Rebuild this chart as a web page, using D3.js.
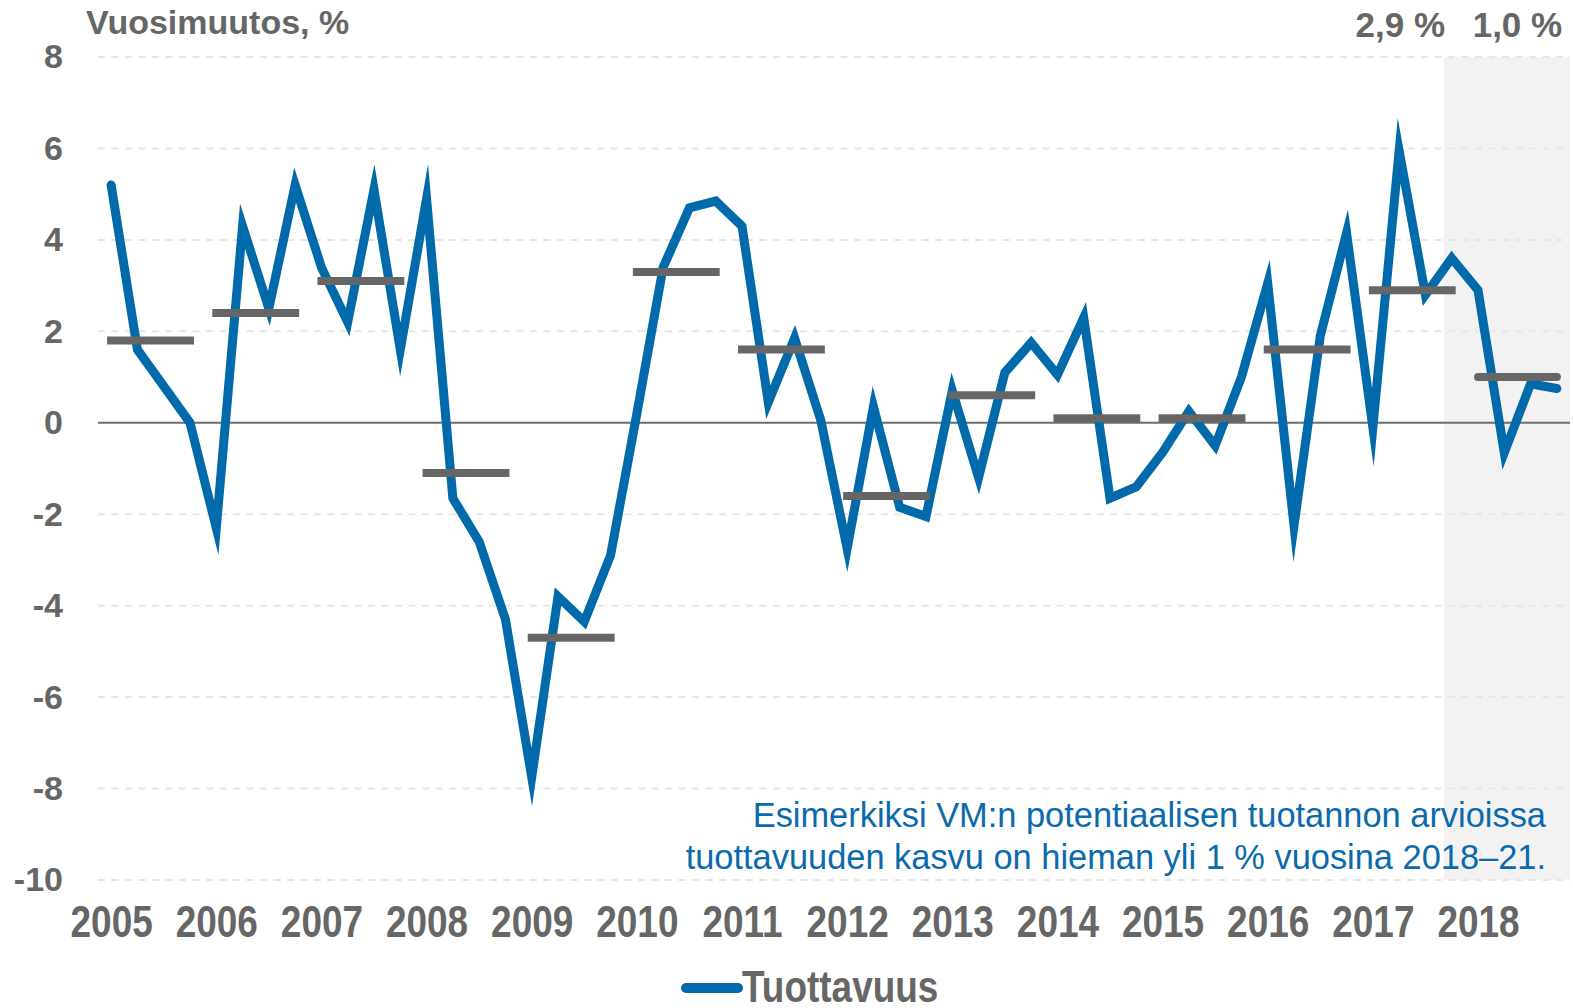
<!DOCTYPE html>
<html>
<head>
<meta charset="utf-8">
<script src="https://cdn.jsdelivr.net/npm/d3@7"></script>
<style>
  body { margin: 0; background: #fff; }
  svg { display: block; }
  .wide { font-family: "Liberation Sans", Arial, sans-serif; font-weight: bold; fill: #666; }
  .narrow { font-family: "Liberation Sans", Arial, sans-serif; }
</style>
</head>
<body>
<div id="chart"></div>
<script>
// Quarterly y/y change in productivity, 2005Q1 .. 2018Q4
const years = [2005, 2006, 2007, 2008, 2009, 2010, 2011, 2012, 2013, 2014, 2015, 2016, 2017, 2018];
const productivity = [
  5.2, 1.6, 0.8, 0.0,
  -2.3, 4.3, 2.5, 5.2,
  3.4, 2.2, 5.1, 1.6,
  4.9, -1.65, -2.6, -4.3,
  -7.75, -3.8, -4.35, -2.9,
  0.2, 3.4, 4.7, 4.85,
  4.3, 0.45, 1.85, 0.05,
  -2.75, 0.35, -1.85, -2.05,
  0.7, -1.2, 1.1, 1.75,
  1.05, 2.3, -1.65, -1.4,
  -0.65, 0.25, -0.5, 1.0,
  3.05, -2.25, 1.9, 4.15,
  -0.1, 5.95, 2.8, 3.6,
  2.9, -0.65, 0.85, 0.75
];
// annual averages (grey bars)
const annualAvg = [1.8, 2.4, 3.1, -1.1, -4.7, 3.3, 1.6, -1.6, 0.6, 0.1, 0.1, 1.6, 2.9, 1.0];
const yTicks = [8, 6, 4, 2, 0, -2, -4, -6, -8, -10];
const calloutYears = [2017, 2018];
const calloutText = ["2,9 %", "1,0 %"];
const shadeFrom = "2017Q4";
const noteLines = [
  "Esimerkiksi VM:n potentiaalisen tuotannon arvioissa",
  "tuottavuuden kasvu on hieman yli 1 % vuosina 2018\u201321."
];

const W = 1573, H = 1008;
const plot = { left: 98, right: 1570, top: 57, bottom: 880 };
const squeeze = "scale(0.84,1)";   // narrow look for axis + legend text

const quarters = years.flatMap(y => [1, 2, 3, 4].map(q => y + "Q" + q));

const svg = d3.select("#chart").append("svg")
  .attr("width", W)
  .attr("height", H);

const x = d3.scalePoint().domain(quarters).range([plot.left, plot.right]).padding(0.5);
const y = d3.scaleLinear().domain([-10, 8]).range([plot.bottom, plot.top]);
const step = x.step();

// forecast shading
svg.append("rect")
  .attr("x", x(shadeFrom) - 0.3 * step)
  .attr("y", plot.top)
  .attr("width", plot.right - (x(shadeFrom) - 0.3 * step))
  .attr("height", plot.bottom - plot.top)
  .attr("fill", "#f2f2f2");

// gridlines
svg.append("g")
  .selectAll("line")
  .data(yTicks.filter(d => d !== 0))
  .join("line")
  .attr("x1", plot.left)
  .attr("x2", plot.right)
  .attr("y1", d => y(d))
  .attr("y2", d => y(d))
  .attr("stroke", "#e6e6e6")
  .attr("stroke-width", 2)
  .attr("stroke-dasharray", "7,6.5");

svg.append("line")
  .attr("x1", plot.left)
  .attr("x2", plot.right)
  .attr("y1", y(0))
  .attr("y2", y(0))
  .attr("stroke", "#6e6e6e")
  .attr("stroke-width", 2);

// y axis labels
const yAxis = svg.append("g")
  .attr("transform", `translate(${plot.left - 35},0)`)
  .call(d3.axisLeft(y).tickValues(yTicks).tickFormat(d => String(d)).tickSize(0).tickPadding(0));
yAxis.select(".domain").remove();
yAxis.selectAll("text")
  .attr("class", "wide")
  .style("font-size", "34px");

// x axis labels (one per year, on first quarter)
const xAxis = svg.append("g")
  .attr("transform", `translate(0,${plot.bottom + 57})`)
  .call(d3.axisBottom(x).tickValues(years.map(yr => yr + "Q1")).tickFormat(d => d.slice(0, 4)).tickSize(0).tickPadding(0));
xAxis.select(".domain").remove();
xAxis.selectAll("text")
  .attr("class", "narrow")
  .attr("dy", 0)
  .attr("transform", squeeze)
  .style("font-size", "44px")
  .style("font-weight", "bold")
  .style("fill", "#666");

// productivity line
const line = d3.line()
  .x((d, i) => x(quarters[i]))
  .y(d => y(d));

svg.append("path")
  .datum(productivity)
  .attr("d", line)
  .attr("fill", "none")
  .attr("stroke", "#006aab")
  .attr("stroke-width", 9)
  .attr("stroke-linejoin", "miter")
  .attr("stroke-miterlimit", 12)
  .attr("stroke-linecap", "round");

// annual average bars
svg.append("g")
  .selectAll("line")
  .data(annualAvg)
  .join("line")
  .attr("x1", (d, i) => x(years[i] + "Q1"))
  .attr("x2", (d, i) => x(years[i] + "Q4"))
  .attr("y1", d => y(d))
  .attr("y2", d => y(d))
  .attr("stroke", "#666")
  .attr("stroke-width", 8)
  .attr("stroke-linecap", (d, i) => i === years.length - 1 ? "round" : "square");

// callouts above the last two years
svg.append("g")
  .selectAll("text")
  .data(calloutYears)
  .join("text")
  .attr("class", "wide")
  .attr("x", d => (x(d + "Q1") + x(d + "Q4")) / 2 - (d === 2017 ? 12 : 0))
  .attr("y", 37)
  .attr("text-anchor", "middle")
  .style("font-size", "35px")
  .text((d, i) => calloutText[i]);

// title
svg.append("text")
  .attr("class", "wide")
  .attr("x", 86)
  .attr("y", 34)
  .style("font-size", "34px")
  .text("Vuosimuutos, %");

// note
svg.append("g")
  .selectAll("text")
  .data(noteLines)
  .join("text")
  .attr("class", "narrow")
  .attr("x", 1546)
  .attr("y", (d, i) => 827 + i * 42)
  .attr("text-anchor", "end")
  .style("font-size", "34.4px")
  .style("fill", "#0a6aad")
  .text(d => d);

// legend
const legend = svg.append("g").attr("transform", "translate(686,988)");
legend.append("line")
  .attr("x1", 0)
  .attr("x2", 52)
  .attr("stroke", "#006aab")
  .attr("stroke-width", 10)
  .attr("stroke-linecap", "round");
legend.append("g")
  .attr("transform", "translate(56,14) " + squeeze)
  .append("text")
  .attr("class", "narrow")
  .style("font-size", "44px")
  .style("font-weight", "bold")
  .style("fill", "#666")
  .text("Tuottavuus");
</script>
</body>
</html>
